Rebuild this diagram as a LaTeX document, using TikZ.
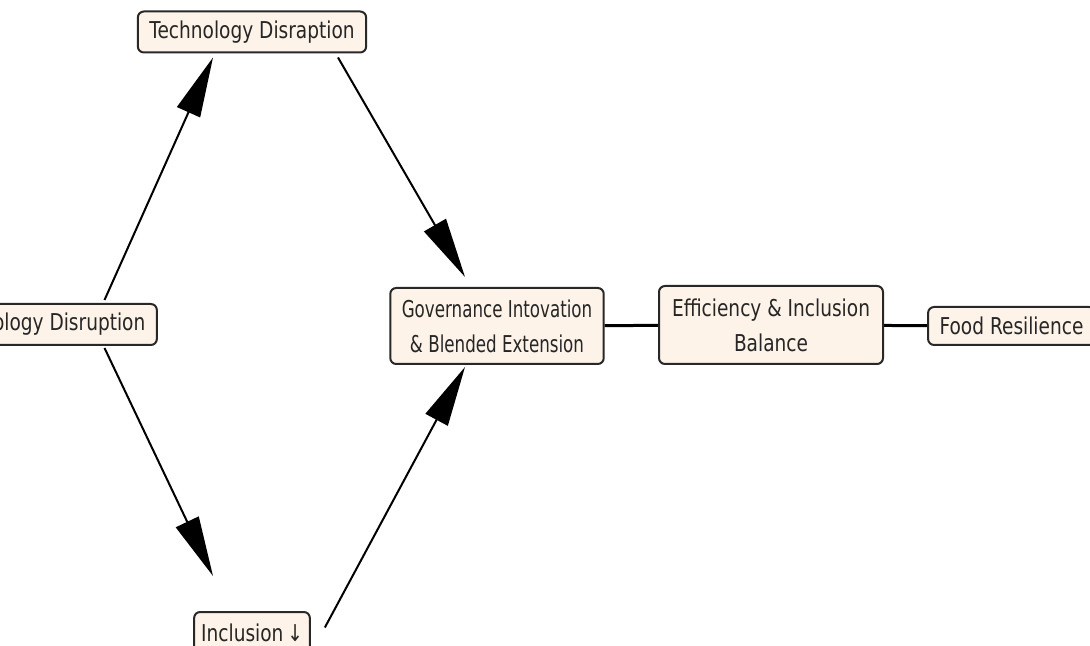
\documentclass[tikz,border=0pt]{standalone}
\usepackage{fontspec}
\setmainfont{DejaVu Sans}[FakeStretch=0.8]
\newfontfamily\narrowfont{DejaVu Sans}[FakeStretch=0.72]
\usetikzlibrary{arrows.meta}
\definecolor{boxfill}{RGB}{253,243,232}
\definecolor{boxline}{RGB}{40,40,40}
\tikzset{
  box/.style={draw=boxline,fill=boxfill,rounded corners=0.12cm,line width=0.04cm,
    inner xsep=0.23cm,inner ysep=0pt,minimum height=0.82cm,align=center,
    font=\fontsize{13.2}{20}\selectfont,text=black!85},
  arr/.style={line width=0.04cm,-{Triangle[length=1.2cm,width=0.5cm]}},
  link/.style={line width=0.06cm}
}
\begin{document}
\begin{tikzpicture}
\useasboundingbox (0,0) rectangle (21.8,12.9);
\clip (0,0) rectangle (21.8,12.9);
% nodes
\node[box] (ld) at (0.85,6.41) {Technology Disruption};
\node[box] (tech) at (5.04,12.26) {Technology Disraption};
\node[box,minimum height=1.52cm,font=\fontsize{13.2}{20}\narrowfont] (gov) at (9.94,6.38) {Governance Intovation\\ \& Blended Extension};
\node[box,minimum height=1.56cm,minimum width=4.48cm] (eff) at (15.42,6.40) {Efficiency \& Inclusion\\ Balance};
\node[box,minimum height=0.76cm] (food) at (20.23,6.38) {Food Resilience};
\node[box,inner xsep=0.14cm] (incl) at (5.04,0.25) {Inclusion\,↓};
% arrows
\draw[arr] ([xshift=1.24cm,yshift=0.06cm]ld.north) -- ([xshift=-0.78cm,yshift=-0.08cm]tech.south);
\draw[arr] ([xshift=1.72cm,yshift=-0.08cm]tech.south) -- ([xshift=-0.64cm,yshift=0.2cm]gov.north);
\draw[arr] ([xshift=1.24cm,yshift=-0.04cm]ld.south) -- ([xshift=-0.78cm,yshift=0.7cm]incl.north);
\draw[arr] ([xshift=0.28cm,yshift=0.1cm]incl.east) -- ([xshift=-0.64cm,yshift=-0.04cm]gov.south);
% links
\draw[link] (gov) -- (eff);
\draw[link] (eff) -- (food);
\end{tikzpicture}
\end{document}
